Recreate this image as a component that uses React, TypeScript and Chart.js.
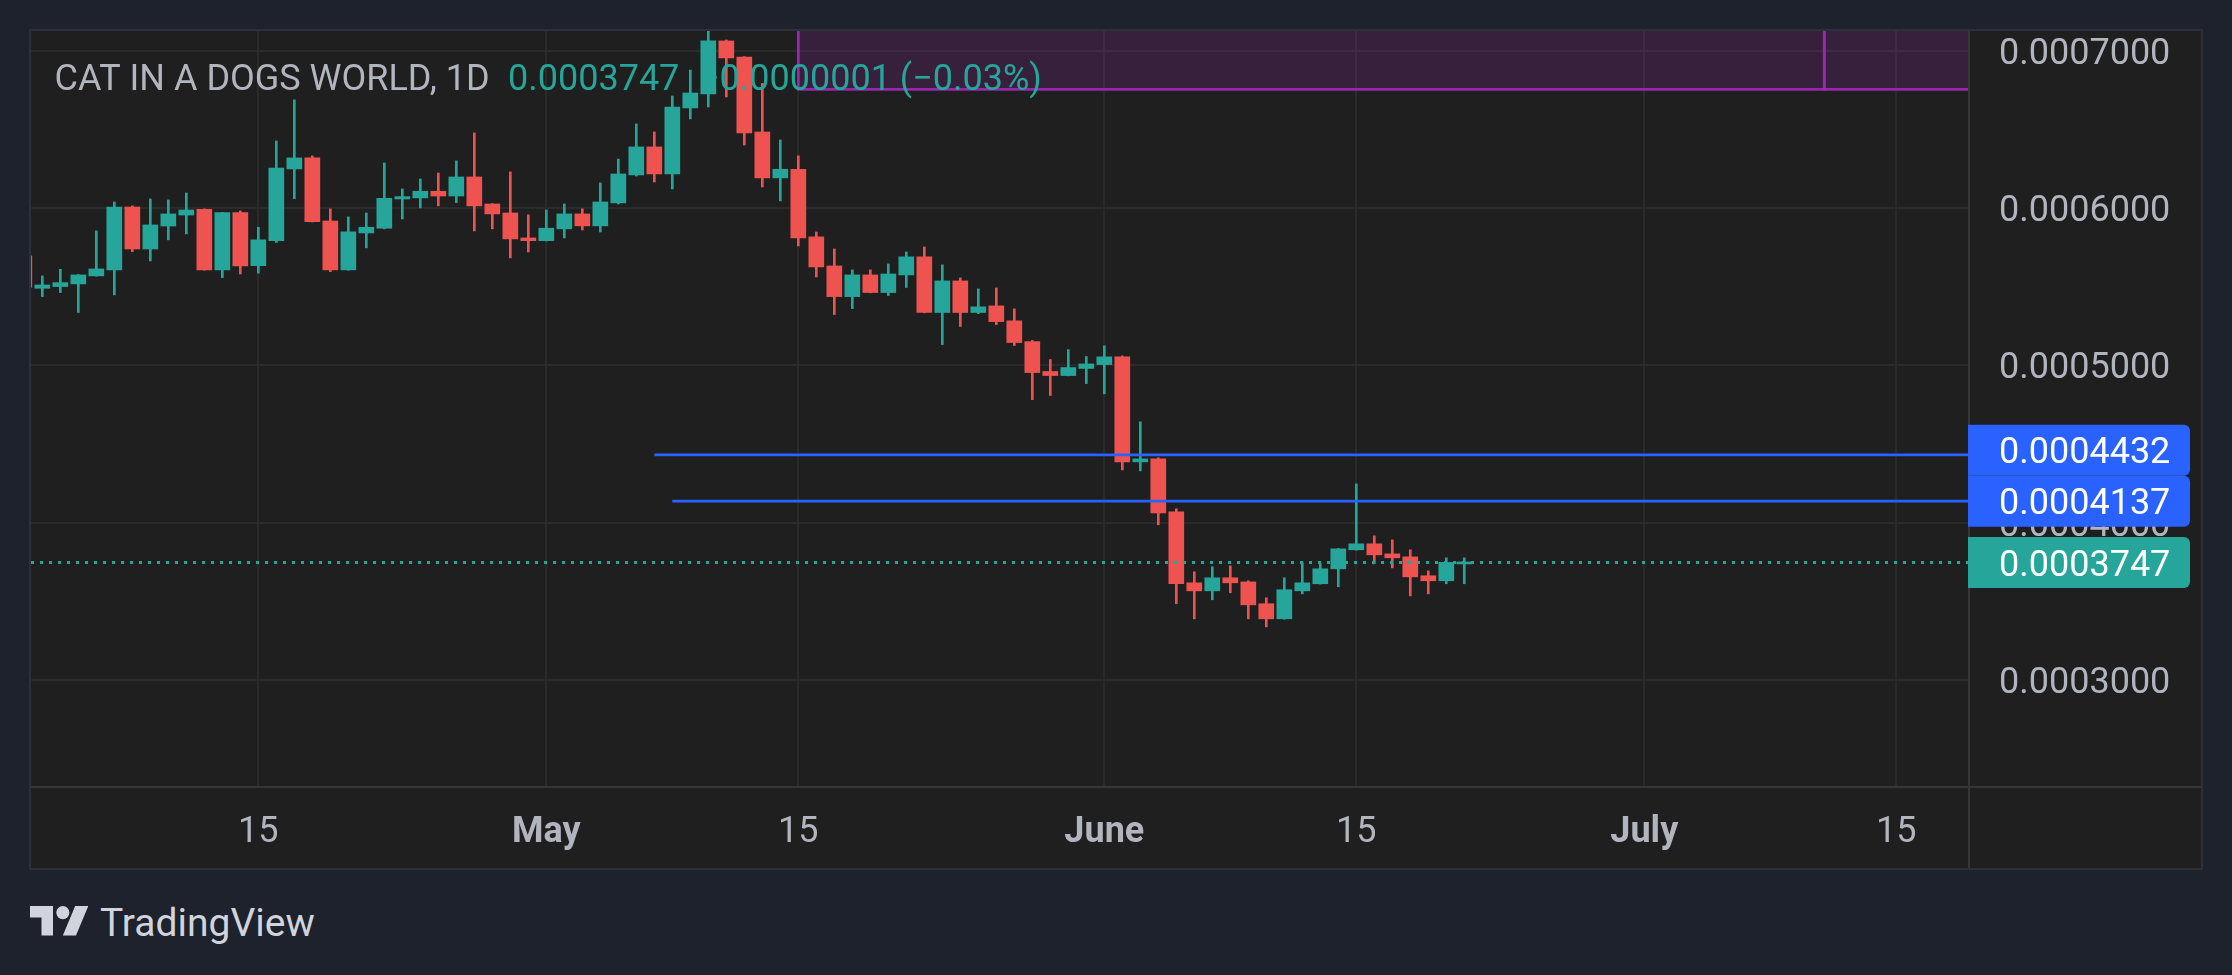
import React, { useEffect, useRef } from "react";
import { Chart, registerables } from "chart.js";

Chart.register(...registerables);

// ---------- data ----------
const dates = [
  "2024-04-02", "2024-04-03", "2024-04-04", "2024-04-05", "2024-04-06", "2024-04-07", "2024-04-08",
  "2024-04-09", "2024-04-10", "2024-04-11", "2024-04-12", "2024-04-13", "2024-04-14", "2024-04-15",
  "2024-04-16", "2024-04-17", "2024-04-18", "2024-04-19", "2024-04-20", "2024-04-21", "2024-04-22",
  "2024-04-23", "2024-04-24", "2024-04-25", "2024-04-26", "2024-04-27", "2024-04-28", "2024-04-29",
  "2024-04-30", "2024-05-01", "2024-05-02", "2024-05-03", "2024-05-04", "2024-05-05", "2024-05-06",
  "2024-05-07", "2024-05-08", "2024-05-09", "2024-05-10", "2024-05-11", "2024-05-12", "2024-05-13",
  "2024-05-14", "2024-05-15", "2024-05-16", "2024-05-17", "2024-05-18", "2024-05-19", "2024-05-20",
  "2024-05-21", "2024-05-22", "2024-05-23", "2024-05-24", "2024-05-25", "2024-05-26", "2024-05-27",
  "2024-05-28", "2024-05-29", "2024-05-30", "2024-05-31", "2024-06-01", "2024-06-02", "2024-06-03",
  "2024-06-04", "2024-06-05", "2024-06-06", "2024-06-07", "2024-06-08", "2024-06-09", "2024-06-10",
  "2024-06-11", "2024-06-12", "2024-06-13", "2024-06-14", "2024-06-15", "2024-06-16", "2024-06-17",
  "2024-06-18", "2024-06-19", "2024-06-20", "2024-06-21",
];

const opens = [
  0.0005697, 0.0005491, 0.0005502, 0.0005519, 0.000557, 0.0005608, 0.0006008, 0.0005741, 0.0005887, 0.0005957,
  0.0005993, 0.0005608, 0.0005972, 0.0005635, 0.0005794, 0.000625, 0.000632, 0.0005919, 0.0005608, 0.0005843,
  0.0005873, 0.0006059, 0.0006066, 0.0006108, 0.0006078, 0.0006199, 0.0006027, 0.000597, 0.0005811, 0.0005794,
  0.0005869, 0.0005964, 0.0005888, 0.0006034, 0.0006212, 0.000639, 0.0006218, 0.0006638, 0.0006727, 0.0007064,
  0.0006962, 0.0006485, 0.0006193, 0.0006248, 0.0005818, 0.0005633, 0.0005438, 0.0005576, 0.0005464, 0.0005576,
  0.0005691, 0.0005337, 0.0005538, 0.0005337, 0.0005379, 0.0005284, 0.0005152, 0.0004962, 0.0004936, 0.0004981,
  0.0005006, 0.0005055, 0.0004387, 0.0004406, 0.0004069, 0.0003618, 0.0003567, 0.000365, 0.0003624, 0.0003485,
  0.0003389, 0.0003567, 0.0003612, 0.0003707, 0.0003828, 0.0003866, 0.0003802, 0.0003783, 0.0003663, 0.0003631,
  0.0003738,
];

const highs = [
  0.000572, 0.000557, 0.0005612, 0.0005578, 0.0005856, 0.000604, 0.0006015, 0.0006059, 0.0006053, 0.0006097,
  0.0005996, 0.0005974, 0.0005983, 0.0005879, 0.0006428, 0.0006689, 0.0006333, 0.0005996, 0.0005945, 0.000597,
  0.0006288, 0.0006123, 0.0006186, 0.0006224, 0.0006301, 0.0006479, 0.0006029, 0.0006231, 0.0005958, 0.0005989,
  0.0006027, 0.0005996, 0.0006161, 0.0006313, 0.0006536, 0.0006485, 0.0006714, 0.0006879, 0.0007138, 0.000707,
  0.0006964, 0.0006794, 0.0006434, 0.0006333, 0.0005849, 0.0005741, 0.0005608, 0.0005608, 0.0005646, 0.0005722,
  0.0005754, 0.000564, 0.0005557, 0.0005487, 0.0005493, 0.000536, 0.0005159, 0.0005038, 0.0005101, 0.0005057,
  0.0005125, 0.0005061, 0.0004642, 0.0004413, 0.0004089, 0.0003688, 0.000372, 0.0003726, 0.0003631, 0.0003523,
  0.000365, 0.0003745, 0.0003739, 0.0003836, 0.0004247, 0.0003917, 0.0003891, 0.0003828, 0.0003694, 0.0003777,
  0.0003777,
];

const lows = [
  0.000548, 0.0005438, 0.0005464, 0.0005337, 0.0005568, 0.0005449, 0.0005724, 0.0005665, 0.0005799, 0.0005837,
  0.0005606, 0.0005559, 0.0005582, 0.0005587, 0.0005782, 0.0006061, 0.0005913, 0.0005597, 0.0005606, 0.0005748,
  0.0005869, 0.0005932, 0.0006002, 0.0006015, 0.0006036, 0.0005856, 0.0005869, 0.0005684, 0.0005722, 0.0005792,
  0.0005811, 0.0005862, 0.0005849, 0.0006027, 0.0006205, 0.0006167, 0.0006123, 0.0006568, 0.0006644, 0.0006708,
  0.0006402, 0.0006135, 0.0006047, 0.000576, 0.0005563, 0.0005324, 0.0005362, 0.0005462, 0.0005445, 0.0005496,
  0.0005335, 0.0005133, 0.0005248, 0.000533, 0.000526, 0.0005127, 0.0004783, 0.0004809, 0.0004934, 0.0004885,
  0.000482, 0.0004336, 0.000433, 0.0003987, 0.0003485, 0.0003389, 0.000351, 0.0003555, 0.0003389, 0.0003338,
  0.0003387, 0.0003548, 0.000361, 0.0003593, 0.0003826, 0.0003739, 0.0003713, 0.0003535, 0.0003548, 0.0003612,
  0.0003612,
];

const closes = [
  0.0005498, 0.0005512, 0.0005527, 0.0005576, 0.0005614, 0.0006008, 0.0005741, 0.0005894, 0.0005964, 0.0005989,
  0.0005608, 0.0005972, 0.0005633, 0.0005799, 0.0006256, 0.000632, 0.0005915, 0.0005608, 0.000585, 0.0005879,
  0.0006063, 0.0006074, 0.0006108, 0.0006078, 0.0006199, 0.0006015, 0.0005964, 0.0005805, 0.0005794, 0.0005873,
  0.0005964, 0.0005888, 0.000604, 0.0006218, 0.000639, 0.0006218, 0.0006644, 0.0006733, 0.0007064, 0.0006956,
  0.0006479, 0.0006193, 0.0006248, 0.0005811, 0.0005627, 0.0005438, 0.0005576, 0.0005464, 0.0005582, 0.0005691,
  0.0005337, 0.0005538, 0.0005337, 0.0005373, 0.0005279, 0.0005146, 0.0004955, 0.0004936, 0.0004987, 0.000501,
  0.0005055, 0.0004387, 0.0004406, 0.0004063, 0.0003612, 0.0003567, 0.000365, 0.0003618, 0.0003478, 0.0003389,
  0.0003574, 0.0003618, 0.0003707, 0.0003834, 0.0003866, 0.0003796, 0.0003777, 0.0003656, 0.0003631, 0.0003748,
  0.0003747,
];

const xTickDates = ["2024-04-15", "2024-05-01", "2024-05-15", "2024-06-01", "2024-06-15", "2024-07-01", "2024-07-15"];
const xTickLabels = ["15", "May", "15", "June", "15", "July", "15"];
const xTickBold = [false, true, false, true, false, true, false];
const yTickValues = [0.0003, 0.0004, 0.0005, 0.0006, 0.0007];

const levelPrices = [0.0004432, 0.0004137];
const levelStarts = ["2024-05-07", "2024-05-08"];
const lastPrice = 0.0003747;

const zoneStarts = ["2024-05-15", "2024-07-11"];
const zoneEnds = ["2024-07-11", "2024-08-31"];
const zoneBottom = 0.0006756;
const zoneTop = 0.00076;

const titleText = "CAT IN A DOGS WORLD, 1D";
const lastText = "0.0003747";
const changeText = "\u22120.0000001 (\u22120.03%)";

// ---------- styling ----------
const ORIGIN = "2024-04-15";
const X_MIN = -12.63;
const X_MAX = 95.04;
const Y_MIN = 0.00023195;
const Y_MAX = 0.00071272;

const TEAL = "#26a69a";
const RED = "#ef5350";
const BLUE = "#2962ff";
const PURPLE = "#9c27b0";
const PURPLE_FILL = "rgba(156,39,176,0.2)";
const GRID = "#2a2a2a";
const SEP = "#363636";
const TEXT = "#b2b5be";
const FONT = "Roboto";
const FS = 36;

const dayOf = (s: string) => Math.round((Date.parse(s) - Date.parse(ORIGIN)) / 86400000);

export default function App() {
  const ref = useRef<HTMLCanvasElement | null>(null);

  useEffect(() => {
    if (!ref.current) return;
    Chart.defaults.font.family = FONT;

    const xs = dates.map(dayOf);
    const bodyData = xs.map((x, i) => ({ x, y: [opens[i], closes[i]] }));
    const wickData = xs.map((x, i) => ({ x, y: [lows[i], highs[i]] }));
    const candleColor = (c: any) => (closes[c.dataIndex] >= opens[c.dataIndex] ? TEAL : RED);

    const levelSets = levelPrices.map((p, i) => ({
      type: "line",
      data: [
        { x: dayOf(levelStarts[i]), y: p },
        { x: X_MAX + 10, y: p },
      ],
      borderColor: BLUE,
      borderWidth: 2.7,
      pointRadius: 0,
      clip: 0,
      order: 0,
    }));

    const overlay = {
      id: "overlay",
      beforeDatasetsDraw(chart: any) {
        const { ctx, chartArea: a, scales } = chart;
        const x = scales.x;
        const y = scales.y;
        ctx.save();
        ctx.beginPath();
        ctx.rect(a.left, a.top, a.right - a.left, a.bottom - a.top);
        ctx.clip();
        zoneStarts.forEach((s, i) => {
          const x0 = x.getPixelForValue(dayOf(s));
          const x1 = x.getPixelForValue(dayOf(zoneEnds[i]));
          const yb = y.getPixelForValue(zoneBottom);
          const yt = y.getPixelForValue(zoneTop);
          ctx.fillStyle = PURPLE_FILL;
          ctx.fillRect(x0, yt, x1 - x0, yb - yt);
          ctx.strokeStyle = PURPLE;
          ctx.lineWidth = 2.7;
          ctx.strokeRect(x0, yt, x1 - x0, yb - yt);
        });
        ctx.restore();
      },
      afterDatasetsDraw(chart: any) {
        const { ctx } = chart;
        ctx.save();
        ctx.font = `${FS}px ${FONT}`;
        ctx.textAlign = "left";
        ctx.textBaseline = "alphabetic";
        ctx.fillStyle = TEXT;
        ctx.fillText(titleText, 23.5, 58.5);
        ctx.fillStyle = TEAL;
        ctx.fillText(lastText, 477, 58.5);
        ctx.fillText(changeText, 668, 58.5);
        ctx.restore();
      },
      afterDraw(chart: any) {
        const { ctx, chartArea: a, scales } = chart;
        const y = scales.y;
        ctx.save();
        ctx.fillStyle = SEP;
        ctx.fillRect(0, a.bottom - 1, chart.width, 2);
        ctx.fillRect(a.right - 1, 0, 2, chart.height);

        const H = 51;
        const labels = [
          { v: levelPrices[0], c: BLUE },
          { v: levelPrices[1], c: BLUE },
          { v: lastPrice, c: TEAL },
        ].map((l) => ({ ...l, cy: y.getPixelForValue(l.v) }));
        labels.sort((p, q) => q.cy - p.cy);
        for (let i = 1; i < labels.length; i++) {
          const prevTop = labels[i - 1].cy - H / 2;
          if (labels[i].cy + H / 2 > prevTop) labels[i].cy = prevTop - H / 2;
        }
        ctx.font = `${FS}px ${FONT}`;
        ctx.textAlign = "left";
        ctx.textBaseline = "middle";
        labels.forEach((l) => {
          ctx.fillStyle = l.c;
          ctx.beginPath();
          (ctx as any).roundRect(a.right - 1, l.cy - H / 2, 222, H, [0, 6, 6, 0]);
          ctx.fill();
          ctx.fillStyle = "#ffffff";
          ctx.fillText(Number(l.v).toFixed(7), a.right + 30, l.cy + 4);
        });
        ctx.restore();
      },
    };

    const chart = new Chart(ref.current, {
      type: "bar",
      data: {
        datasets: [
          ...levelSets,
          {
            type: "line",
            data: [
              { x: X_MIN - 10, y: lastPrice },
              { x: X_MAX + 10, y: lastPrice },
            ],
            borderColor: TEAL,
            borderWidth: 3,
            borderDash: [3, 6],
            pointRadius: 0,
            clip: 0,
            order: 0,
          },
          {
            type: "bar",
            data: bodyData,
            backgroundColor: candleColor,
            barThickness: 15,
            grouped: false,
            minBarLength: 2,
            borderWidth: 0,
            order: 1,
          },
          {
            type: "bar",
            data: wickData,
            backgroundColor: candleColor,
            barThickness: 2,
            grouped: false,
            borderWidth: 0,
            order: 2,
          },
        ] as any,
      },
      options: {
        responsive: false,
        animation: false,
        events: [],
        layout: { padding: 0 },
        plugins: { legend: { display: false }, tooltip: { enabled: false } },
        scales: {
          x: {
            type: "linear",
            position: "bottom",
            min: X_MIN,
            max: X_MAX,
            offset: false,
            grid: { color: GRID, lineWidth: 2, drawTicks: false, offset: false },
            border: { display: false },
            afterBuildTicks(s: any) {
              s.ticks = xTickDates.map((d) => ({ value: dayOf(d) }));
            },
            afterFit(s: any) {
              s.height = 81;
              s.paddingLeft = 0;
              s.paddingRight = 0;
            },
            ticks: {
              autoSkip: false,
              maxRotation: 0,
              minRotation: 0,
              padding: 24,
              color: TEXT,
              font: (c: any) => ({ family: FONT, size: FS, weight: xTickBold[c.index] ? "bold" : "normal" }),
              callback: (_v: any, i: number) => xTickLabels[i],
            },
          },
          y: {
            type: "linear",
            position: "right",
            min: Y_MIN,
            max: Y_MAX,
            beginAtZero: false,
            grid: { color: GRID, lineWidth: 2, drawTicks: false },
            border: { display: false },
            afterBuildTicks(s: any) {
              s.ticks = yTickValues.map((v) => ({ value: v }));
            },
            afterFit(s: any) {
              s.width = 232;
              s.paddingTop = 0;
              s.paddingBottom = 0;
            },
            ticks: {
              padding: 30,
              labelOffset: 4,
              color: TEXT,
              font: { family: FONT, size: FS },
              callback: (v: any) => Number(v).toFixed(7),
            },
          },
        },
      } as any,
      plugins: [overlay as any],
    });

    return () => chart.destroy();
  }, []);

  return (
    <div
      style={{
        position: "fixed",
        left: 0,
        top: 0,
        width: 2232,
        height: 975,
        background: "#1e222d",
        overflow: "hidden",
        fontFamily: FONT,
      }}
    >
      <div
        style={{
          position: "absolute",
          left: 29,
          top: 29,
          width: 2174,
          height: 841,
          boxSizing: "border-box",
          border: "2px solid #2e3039",
          background: "#1f1f1f",
        }}
      />
      <canvas
        ref={ref}
        width={2170}
        height={837}
        style={{ position: "absolute", left: 31, top: 31, width: 2170, height: 837 }}
      />
      <svg
        style={{ position: "absolute", left: 30, top: 906 }}
        width={58.3}
        height={29.6}
        viewBox="0 4 35.5 18"
      >
        <path d="M14 22H7V11H0V4h14v18z" fill="#d1d4dc" />
        <path d="M28 22h-8l7.5-18h8L28 22z" fill="#d1d4dc" />
        <circle cx="20" cy="8" r="4" fill="#d1d4dc" />
      </svg>
      <span
        style={{
          position: "absolute",
          left: 100,
          top: 904,
          fontSize: 39,
          lineHeight: "39px",
          color: "#d1d4dc",
          fontFamily: FONT,
          whiteSpace: "nowrap",
        }}
      >
        TradingView
      </span>
    </div>
  );
}
